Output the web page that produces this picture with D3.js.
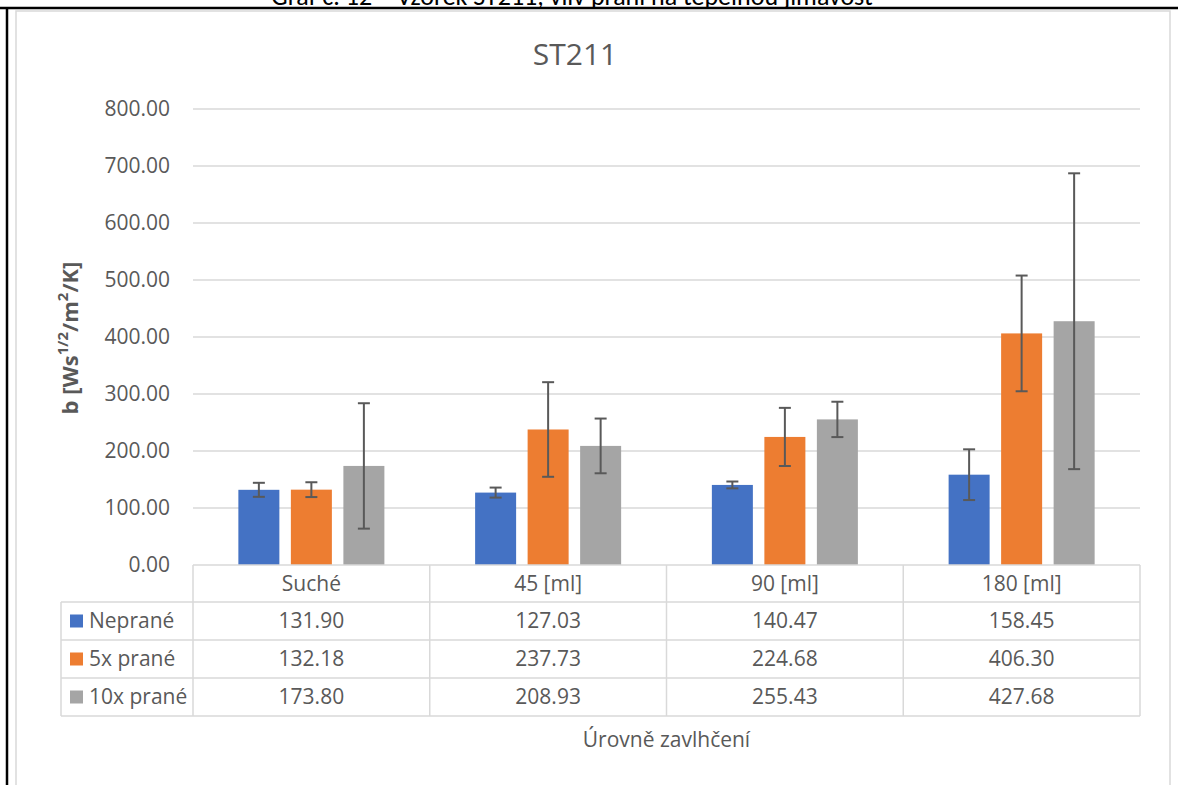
<!DOCTYPE html>
<html>
<head>
<meta charset="utf-8">
<script src="https://cdn.jsdelivr.net/npm/d3@7"></script>
<style>
  html, body { margin: 0; padding: 0; background: #fff; }
  svg { display: block; font-family: "Open Sans", "Noto Sans", sans-serif; }
</style>
</head>
<body>
<svg id="chart" width="1178" height="785"></svg>
<script>
const categories = ["Suché", "45 [ml]", "90 [ml]", "180 [ml]"];
const seriesNames = ["Neprané", "5x prané", "10x prané"];
const seriesColors = ["#4472C4", "#ED7D31", "#A5A5A5"];
const valuesNeprane = [131.90, 127.03, 140.47, 158.45];
const values5x = [132.18, 237.73, 224.68, 406.30];
const values10x = [173.80, 208.93, 255.43, 427.68];
const errNeprane = [12.3, 8.8, 6, 44.5];
const err5x = [13, 83, 51, 101.5];
const err10x = [110, 48, 31, 259.5];
const yTicks = [0, 100, 200, 300, 400, 500, 600, 700, 800];
const chartTitle = "ST211";
const pageTitle = "Graf č. 12 – Vzorek ST211, vliv praní na tepelnou jímavost";
const xAxisTitle = "Úrovně zavlhčení";

(function () {
const series = seriesNames.map((name, i) => ({
  name, color: seriesColors[i],
  values: [valuesNeprane, values5x, values10x][i],
  errors: [errNeprane, err5x, err10x][i]
}));

const svg = d3.select("#chart");
const textColor = "#595959";
const gridColor = "#d9d9d9";

// page header text (cut off at the top, as in the source) and frame lines
svg.append("text").attr("x", 572).attr("y", 5).attr("text-anchor", "middle")
  .attr("font-family", "Carlito, Calibri, 'Liberation Sans', sans-serif")
  .attr("font-size", 26).attr("fill", "#000").text(pageTitle);
svg.append("line").attr("x1", 0).attr("x2", 1178).attr("y1", 8).attr("y2", 8)
  .attr("stroke", "#000").attr("stroke-width", 2.5);
svg.append("line").attr("x1", 7).attr("x2", 7).attr("y1", 8).attr("y2", 785)
  .attr("stroke", "#000").attr("stroke-width", 2.5);

// chart area border
svg.append("rect").attr("x", 16).attr("y", 11).attr("width", 1154).attr("height", 790)
  .attr("fill", "#fff").attr("stroke", gridColor).attr("stroke-width", 1.5);

const pLeft = 193, pRight = 1140, pTop = 109, pBottom = 565;
const y = d3.scaleLinear().domain([0, 800]).range([pBottom, pTop]);
const x0 = d3.scaleBand().domain(categories).range([pLeft, pRight]).padding(0);
const x1 = d3.scaleBand().domain(seriesNames).range([0, x0.bandwidth()])
  .paddingInner(0.219).paddingOuter(0.864);

// title
svg.append("text").attr("x", 575).attr("y", 65).attr("text-anchor", "middle")
  .attr("font-size", 30).attr("fill", textColor).text(chartTitle);

// gridlines
svg.append("g").selectAll("line").data(yTicks.filter(t => t > 0)).join("line")
  .attr("x1", pLeft).attr("x2", pRight)
  .attr("y1", d => y(d)).attr("y2", d => y(d))
  .attr("stroke", gridColor).attr("stroke-width", 1.5);

// y tick labels
const yAxis = d3.axisLeft(y).tickValues(yTicks).tickFormat(d3.format(".2f")).tickSize(0).tickPadding(0);
const gy = svg.append("g").attr("transform", "translate(170,0)").call(yAxis);
gy.select(".domain").remove();
gy.selectAll("text").attr("font-size", 21).attr("fill", textColor)
  .attr("font-family", "'Open Sans', sans-serif");

// y axis title
const yt = svg.append("text").attr("transform", "translate(78,338) rotate(-90)")
  .attr("text-anchor", "middle").attr("font-size", 22).attr("font-weight", "bold")
  .attr("fill", textColor);
yt.append("tspan").text("b [Ws");
yt.append("tspan").attr("baseline-shift", "super").attr("font-size", 15).text("1/2");
yt.append("tspan").text("/m");
yt.append("tspan").attr("baseline-shift", "super").attr("font-size", 15).text("2");
yt.append("tspan").text("/K]");

// bars
const groups = svg.append("g").selectAll("g").data(series).join("g").attr("fill", d => d.color);
groups.selectAll("rect").data(s => s.values.map((v, i) => ({ s, v, c: categories[i] }))).join("rect")
  .attr("x", d => x0(d.c) + x1(d.s.name))
  .attr("width", x1.bandwidth())
  .attr("y", d => y(d.v))
  .attr("height", d => y(0) - y(d.v));

// error bars
const eb = svg.append("g").attr("stroke", "#595959").attr("stroke-width", 2).attr("fill", "none");
series.forEach(s => {
  s.values.forEach((v, i) => {
    const cx = x0(categories[i]) + x1(s.name) + x1.bandwidth() / 2;
    const hi = y(v + s.errors[i]), lo = y(v - s.errors[i]);
    eb.append("line").attr("x1", cx).attr("x2", cx).attr("y1", hi).attr("y2", lo);
    eb.append("line").attr("x1", cx - 6).attr("x2", cx + 6).attr("y1", hi).attr("y2", hi);
    eb.append("line").attr("x1", cx - 6).attr("x2", cx + 6).attr("y1", lo).attr("y2", lo);
  });
});

// data table
const rowTop = [565, 602, 640, 678, 716];
const tableLeft = 61;
const tg = svg.append("g").attr("stroke", gridColor).attr("stroke-width", 1.5);
tg.append("line").attr("x1", pLeft).attr("x2", pRight).attr("y1", rowTop[0]).attr("y2", rowTop[0]);
rowTop.slice(1).forEach(yy => {
  tg.append("line").attr("x1", tableLeft).attr("x2", pRight).attr("y1", yy).attr("y2", yy);
});
tg.append("line").attr("x1", tableLeft).attr("x2", tableLeft).attr("y1", rowTop[1]).attr("y2", rowTop[4]);
const bounds = categories.map(c => x0(c)).concat([pRight]);
bounds.forEach(bx => {
  tg.append("line").attr("x1", bx).attr("x2", bx).attr("y1", rowTop[0]).attr("y2", rowTop[4]);
});

// category labels
svg.append("g").selectAll("text").data(categories).join("text")
  .attr("x", d => x0(d) + x0.bandwidth() / 2).attr("y", (rowTop[0] + rowTop[1]) / 2)
  .attr("dy", "0.35em").attr("text-anchor", "middle")
  .attr("font-size", 21).attr("fill", textColor).text(d => d);

// rows
series.forEach((s, r) => {
  const cy = (rowTop[r + 1] + rowTop[r + 2]) / 2;
  svg.append("rect").attr("x", 70).attr("y", cy - 6.5).attr("width", 13).attr("height", 13).attr("fill", s.color);
  svg.append("text").attr("x", 89).attr("y", cy).attr("dy", "0.35em")
    .attr("font-size", 21).attr("fill", textColor).text(s.name);
  svg.append("g").selectAll("text").data(s.values).join("text")
    .attr("x", (d, i) => x0(categories[i]) + x0.bandwidth() / 2).attr("y", cy)
    .attr("dy", "0.35em").attr("text-anchor", "middle")
    .attr("font-size", 21).attr("fill", textColor).text(d => d3.format(".2f")(d));
});

// x axis title
svg.append("text").attr("x", (pLeft + pRight) / 2).attr("y", 740).attr("dy", "0.35em")
  .attr("text-anchor", "middle").attr("font-size", 21).attr("fill", textColor).text(xAxisTitle);
})();
</script>
</body>
</html>
